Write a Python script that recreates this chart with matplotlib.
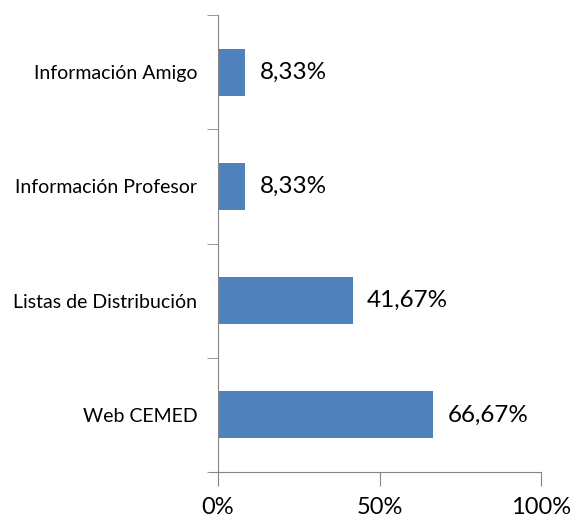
import matplotlib

matplotlib.use("Agg")
import matplotlib.pyplot as plt
import numpy as np

CATEGORIES = ["Web CEMED", "Listas de Distribución", "Información Profesor", "Información Amigo"]
PERCENTAGES = [66.67, 41.67, 8.33, 8.33]
VALUE_LABELS = ["66,67%", "41,67%", "8,33%", "8,33%"]
X_TICKS = [0, 50, 100]
X_TICK_LABELS = ["0%", "50%", "100%"]

BAR_COLOR = "#4F81BD"
AXIS_COLOR = "#868686"

plt.rcParams["font.family"] = ["Lato", "DejaVu Sans"]

figure = plt.figure(figsize=(5.84, 5.23), dpi=100)
axis = figure.add_axes([218 / 584, 1 - 472 / 523, (541 - 218) / 584, (472 - 15) / 523])

y = np.arange(len(CATEGORIES))
axis.barh(y, PERCENTAGES, height=0.41, color=BAR_COLOR)
for position, value, label in zip(y, PERCENTAGES, VALUE_LABELS):
    axis.text(value + 4.5, position, label, va="center", ha="left", fontsize=17.5, color="#000000")

axis.set_xlim(0, 100)
axis.set_ylim(-0.5, len(CATEGORIES) - 0.5)
axis.set_xticks(X_TICKS, X_TICK_LABELS, fontsize=17)
axis.set_yticks(y, CATEGORIES, fontsize=14)
axis.set_yticks(np.arange(-0.5, len(CATEGORIES)), minor=True)
axis.tick_params(axis="y", which="major", length=0, pad=15)
axis.tick_params(axis="y", which="minor", length=8, color=AXIS_COLOR, direction="out")
axis.tick_params(axis="x", length=10, color=AXIS_COLOR, direction="out", pad=8)
for side in ("top", "right"):
    axis.spines[side].set_visible(False)
for side in ("left", "bottom"):
    axis.spines[side].set_color(AXIS_COLOR)
axis.spines["bottom"].set_bounds(-2.5, 100)
axis.spines["bottom"].set_clip_on(False)

figure.savefig("out.png", dpi=100)
